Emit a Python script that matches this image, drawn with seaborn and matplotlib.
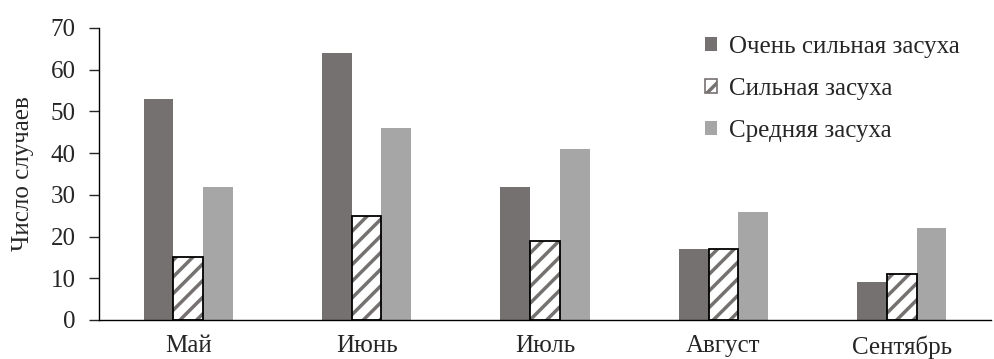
import numpy as np
import pandas as pd
import seaborn as sns
import matplotlib.pyplot as plt
from matplotlib.patches import Patch, Rectangle

months = ['Май', 'Июнь', 'Июль', 'Август', 'Сентябрь']
series = ['Очень сильная засуха', 'Сильная засуха', 'Средняя засуха']
very_strong = [53, 64, 32, 17, 9]
strong = [15, 25, 19, 17, 11]
medium = [32, 46, 41, 26, 22]

dark = '#767171'
light = '#a6a6a6'

sns.set_style('white')
plt.rcParams['font.family'] = ['Liberation Serif', 'DejaVu Serif']
plt.rcParams['hatch.linewidth'] = 2.5

df = pd.DataFrame({
    'month': months * 3,
    'kind': [series[0]] * 5 + [series[1]] * 5 + [series[2]] * 5,
    'value': very_strong + strong + medium,
})

fig = plt.figure(figsize=(9.95, 3.59), dpi=100)
ax = fig.add_axes([99 / 995, 39 / 359, 892 / 995, 292 / 359])

sns.barplot(data=df, x='month', y='value', hue='kind', order=months,
            hue_order=series, palette=[dark, 'white', light],
            width=0.5, gap=0, saturation=1, legend=False, ax=ax,
            linewidth=0)

# hatched middle series: grey stripes + black outline
for p in ax.containers[1]:
    p.set_edgecolor(dark)
    p.set_hatch('//')
    p.set_linewidth(0)
    ax.add_patch(Rectangle((p.get_x(), p.get_y()), p.get_width(), p.get_height(),
                           fill=False, edgecolor='black', linewidth=1.3, zorder=3))

ax.set_ylim(0, 70)
ax.set_yticks(np.arange(0, 71, 10))
ax.set_xlim(-0.5, 4.5)
ax.set_xlabel('')
ax.set_ylabel('Число случаев', fontsize=18, labelpad=12)
ax.tick_params(axis='y', labelsize=18, length=7, width=1, direction='out', left=True, pad=10)
ax.tick_params(axis='x', labelsize=18, length=0, pad=11)

sns.despine(ax=ax)
for s in ['left', 'bottom']:
    ax.spines[s].set_color('black')
    ax.spines[s].set_linewidth(1)

handles = [
    Patch(facecolor=dark, edgecolor='none'),
    Patch(facecolor='white', edgecolor=dark, hatch='//'),
    Patch(facecolor=light, edgecolor='none'),
]
leg = fig.legend(handles, series, loc='upper left', bbox_to_anchor=(705 / 995, 1 - 36 / 359),
                 frameon=False, fontsize=18, handlelength=0.5, handleheight=0.5,
                 handletextpad=0.45, labelspacing=0.8, borderaxespad=0, borderpad=0)
leg.legend_handles[1].set_linewidth(1.2)

fig.savefig('out.png', dpi=100)
